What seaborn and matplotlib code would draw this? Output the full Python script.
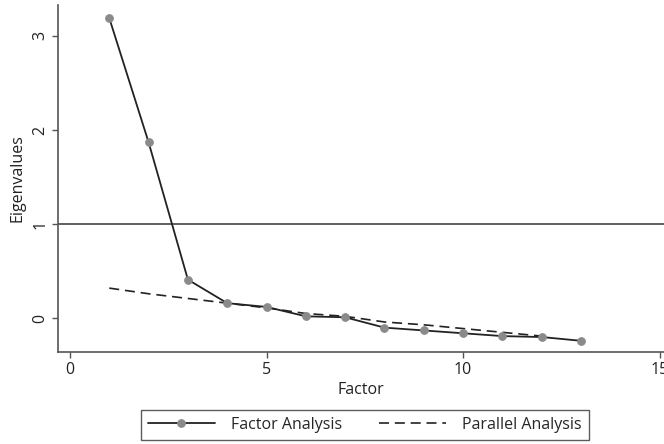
import matplotlib
matplotlib.use("Agg")
import matplotlib.pyplot as plt
import seaborn as sns
import pandas as pd

# eigenvalues
factors = list(range(1, 14))
fa_eigen = [3.19, 1.87, 0.41, 0.16, 0.12, 0.02, 0.01, -0.10, -0.13, -0.16, -0.19, -0.20, -0.24]
pa_factors = list(range(1, 13))
pa_eigen = [0.32, 0.26, 0.21, 0.16, 0.11, 0.05, 0.02, -0.04, -0.07, -0.11, -0.15, -0.19]
x_ticks = [0, 5, 10, 15]
y_ticks = [0, 1, 2, 3]

df_fa = pd.DataFrame({"Factor": factors, "Eigenvalues": fa_eigen})
df_pa = pd.DataFrame({"Factor": pa_factors, "Eigenvalues": pa_eigen})

sns.set_theme(style="white")
plt.rcParams["font.family"] = ["Open Sans", "DejaVu Sans"]

fig = plt.figure(figsize=(6.64, 4.44), dpi=100)
ax = fig.add_axes([0.0873, 0.207, 0.9127, 0.782])

ax.axhline(1, color="#444444", lw=1.2, zorder=1)

sns.lineplot(data=df_pa, x="Factor", y="Eigenvalues", ax=ax, color="#222222",
             lw=1.2, dashes=False, linestyle=(0, (6, 3.5)), label="Parallel Analysis")
sns.lineplot(data=df_fa, x="Factor", y="Eigenvalues", ax=ax, color="#222222",
             lw=1.3, marker="o", markersize=5.5, markerfacecolor="#8a8a8a",
             markeredgecolor="#8a8a8a", label="Factor Analysis")

ax.set_xlim(-0.305, 15.11)
ax.set_ylim(-0.36, 3.33)
ax.set_xticks(x_ticks)
ax.set_yticks(y_ticks)
ax.set_yticklabels([str(v) for v in y_ticks], rotation=90, va="center")
ax.tick_params(axis="both", direction="out", length=4, width=1, color="#555555",
               labelsize=11.5, labelcolor="#222222", bottom=True, left=True, pad=3)
ax.set_xlabel("Factor", fontsize=11.5, color="#222222", labelpad=3)
ax.set_ylabel("Eigenvalues", fontsize=11.5, color="#222222", labelpad=5)

sns.despine(ax=ax, top=True, right=True)
for s in ["left", "bottom"]:
    ax.spines[s].set_color("#555555")
    ax.spines[s].set_linewidth(1.2)

ax.get_legend().remove()
handles, labels = ax.get_legend_handles_labels()
order = [labels.index("Factor Analysis"), labels.index("Parallel Analysis")]
leg = fig.legend([handles[i] for i in order], [labels[i] for i in order],
                 loc="center", bbox_to_anchor=(0.549, 0.043), ncol=2,
                 frameon=True, fancybox=False, edgecolor="#333333",
                 fontsize=11.5, handlelength=4.2, columnspacing=2.3,
                 borderpad=0.45, handletextpad=1.0)
leg.get_frame().set_linewidth(1.0)

fig.savefig("out.png", dpi=100)
